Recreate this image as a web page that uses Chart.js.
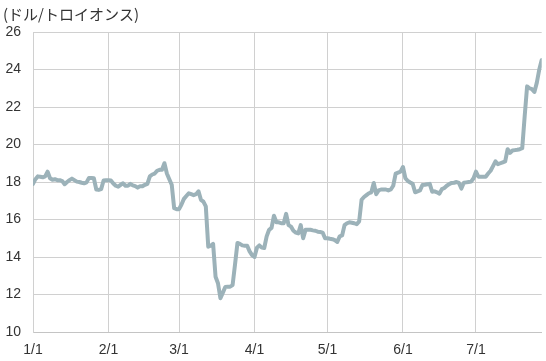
<!DOCTYPE html>
<html>
<head>
<meta charset="utf-8">
<script src="https://cdn.jsdelivr.net/npm/chart.js@4.4.1/dist/chart.umd.min.js"></script>
<style>
html,body{margin:0;padding:0;background:#fff;}
#wrap{width:546px;height:361px;}
</style>
</head>
<body>
<div id="wrap"><canvas id="c" width="546" height="361"></canvas></div>
<script>
// Silver price, USD per troy ounce, one value per calendar day from 2020-01-01
const unitLabel = '(ドル/トロイオンス)';
const startYear = 2020;
const tickLabels = ['1/1', '2/1', '3/1', '4/1', '5/1', '6/1', '7/1'];
const yTickValues = [10, 12, 14, 16, 18, 20, 22, 24, 26];

const janPrices = [17.9, 18.15, 18.3, 18.28, 18.25, 18.3, 18.55, 18.2, 18.12, 18.15, 18.1, 18.1, 18.05, 17.88, 18.0, 18.1, 18.18, 18.1, 18.02, 18.0, 17.96, 17.93, 17.98, 18.22, 18.22, 18.2, 17.6, 17.58, 17.62, 18.08, 18.1];
const febPrices = [18.1, 18.08, 17.92, 17.8, 17.75, 17.85, 17.93, 17.8, 17.8, 17.9, 17.82, 17.78, 17.7, 17.78, 17.78, 17.85, 17.9, 18.3, 18.4, 18.45, 18.6, 18.65, 18.65, 19.0, 18.45, 18.15, 17.85, 16.6, 16.55];
const marPrices = [16.55, 16.8, 17.1, 17.25, 17.4, 17.35, 17.3, 17.35, 17.5, 17.05, 16.95, 16.7, 14.55, 14.6, 14.7, 12.95, 12.6, 11.8, 12.1, 12.4, 12.42, 12.42, 12.5, 13.6, 14.75, 14.7, 14.62, 14.6, 14.6, 14.3, 14.1];
const aprPrices = [14.0, 14.5, 14.62, 14.5, 14.48, 15.1, 15.45, 15.55, 16.2, 15.85, 15.85, 15.8, 15.8, 16.3, 15.7, 15.62, 15.4, 15.3, 15.26, 15.7, 15.0, 15.45, 15.45, 15.45, 15.42, 15.4, 15.35, 15.33, 15.3, 15.0];
const mayPrices = [15.0, 14.97, 14.95, 14.9, 14.8, 15.1, 15.15, 15.7, 15.8, 15.85, 15.83, 15.8, 15.75, 15.9, 17.05, 17.2, 17.3, 17.4, 17.45, 17.95, 17.35, 17.55, 17.6, 17.6, 17.6, 17.55, 17.6, 17.8, 18.45, 18.5, 18.55];
const junPrices = [18.8, 18.2, 18.05, 17.97, 17.9, 17.45, 17.5, 17.55, 17.84, 17.85, 17.88, 17.9, 17.48, 17.5, 17.45, 17.38, 17.62, 17.68, 17.8, 17.89, 17.95, 17.96, 18.0, 17.95, 17.65, 17.96, 17.98, 18.0, 18.02, 18.2];
const julPrices = [18.55, 18.28, 18.28, 18.28, 18.28, 18.45, 18.6, 18.85, 19.1, 18.95, 19.0, 19.05, 19.1, 19.75, 19.55, 19.68, 19.7, 19.72, 19.75, 19.8, 21.5, 23.1, 23.0, 22.95, 22.8, 23.3, 24.0, 24.5];

const prices = [].concat(janPrices, febPrices, marPrices, aprPrices, mayPrices, junPrices, julPrices);
const points = prices.map((v, i) => ({ x: i, y: v }));
const dayMs = 86400000;
const tickDays = tickLabels.map(l => {
  const [m, d] = l.split('/').map(Number);
  return Math.round((Date.UTC(startYear, m - 1, d) - Date.UTC(startYear, 0, 1)) / dayMs);
});

const FONT = "'Liberation Sans', Arial, sans-serif";
const TEXT = '#333333';
const GRID = '#d0d0d0';

const unitPlugin = {
  id: 'unitLabel',
  afterDraw(chart) {
    const ctx = chart.ctx;
    ctx.save();
    ctx.font = "15px 'Noto Sans CJK JP', sans-serif";
    ctx.fillStyle = TEXT;
    ctx.textAlign = 'left';
    ctx.textBaseline = 'middle';
    ctx.fillText(unitLabel, 3, 14);
    ctx.restore();
  }
};

new Chart(document.getElementById('c'), {
  type: 'line',
  data: {
    datasets: [{
      data: points,
      borderColor: '#9cb2b9',
      borderWidth: 4,
      pointRadius: 0,
      tension: 0,
      borderJoinStyle: 'round',
      borderCapStyle: 'round',
      fill: false
    }]
  },
  options: {
    responsive: false,
    devicePixelRatio: 1,
    animation: false,
    layout: { padding: { top: 32, right: 4.3, left: 0, bottom: 0 } },
    plugins: { legend: { display: false }, tooltip: { enabled: false }, title: { display: false } },
    scales: {
      x: {
        type: 'linear',
        min: 0,
        max: prices.length - 1,
        afterBuildTicks: s => { s.ticks = tickDays.map(v => ({ value: v })); },
        afterFit: s => { s.height = 29; },
        ticks: {
          autoSkip: false,
          maxRotation: 0,
          padding: 10,
          color: TEXT,
          font: { family: FONT, size: 14 },
          callback: v => tickLabels[tickDays.indexOf(v)]
        },
        grid: { color: GRID, drawTicks: false },
        border: { color: '#c4c4c4' }
      },
      y: {
        min: yTickValues[0],
        max: yTickValues[yTickValues.length - 1],
        afterBuildTicks: s => { s.ticks = yTickValues.map(v => ({ value: v })); },
        afterFit: s => { s.width = 33; },
        ticks: {
          padding: 12,
          color: TEXT,
          font: { family: FONT, size: 14 }
        },
        grid: { color: GRID, drawTicks: false },
        border: { color: GRID }
      }
    }
  },
  plugins: [unitPlugin]
});
</script>
</body>
</html>
